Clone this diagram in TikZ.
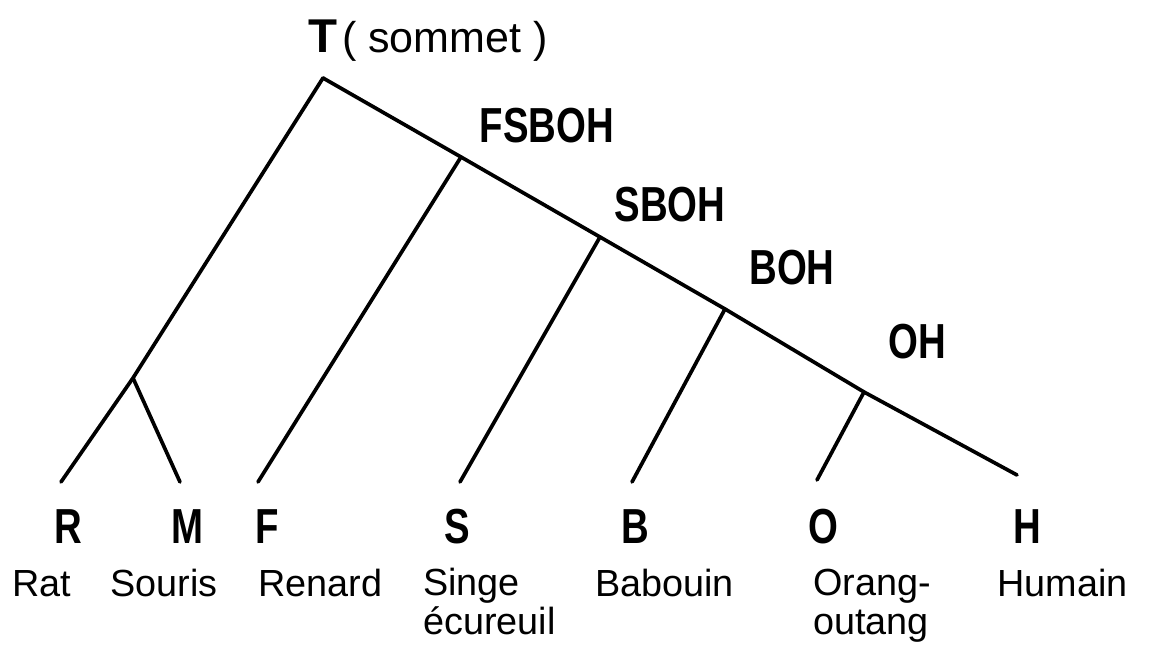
\documentclass[tikz,border=0pt]{standalone}
\usepackage{graphicx}
\usepackage{fontspec}
\setmainfont{Liberation Sans}
\usetikzlibrary{positioning}
\newcommand{\narrowtxt}[1]{\scalebox{0.78}[1]{#1}}
\tikzset{
  branch/.style={line width=2.1pt, color=black, line cap=round},
  leafletter/.style={font=\fontsize{28}{30}\selectfont\bfseries, inner sep=0pt, anchor=base},
  leafname/.style={font=\fontsize{21.5}{21.8}\selectfont, inner sep=0pt, anchor=base west, align=left},
  cladelabel/.style={font=\fontsize{28}{30}\selectfont\bfseries, inner sep=0pt, anchor=base}
}

\begin{document}
\begin{tikzpicture}[x=0.02cm, y=-0.02cm]
  \useasboundingbox (0,0) rectangle (1149,648);

  % root and inner junctions
  \node[inner sep=0pt, anchor=base west] (root) at (308,53)
    {{\fontsize{27}{30}\selectfont\bfseries T}\ {\fontsize{24.5}{26}\selectfont ( sommet )}};
  \coordinate (top) at (323,78);
  \coordinate (jRM) at (133,378);
  \coordinate (jFSBOH) at (461,157);
  \coordinate (jSBOH) at (600,237);
  \coordinate (jBOH) at (725,309);
  \coordinate (jOH) at (864,392);

  % leaf tips
  \coordinate (tR) at (61,482);
  \coordinate (tM) at (180,482);
  \coordinate (tF) at (258,482);
  \coordinate (tS) at (460,482);
  \coordinate (tB) at (632,482);
  \coordinate (tO) at (817,480);
  \coordinate (tH) at (1017,475);

  % branches
  \draw[branch] (top) -- (jRM) -- (tR);
  \draw[branch] (jRM) -- (tM);
  \draw[branch] (top) -- (jFSBOH) -- (jSBOH) -- (jBOH) -- (jOH) -- (tH);
  \draw[branch] (jFSBOH) -- (tF);
  \draw[branch] (jSBOH) -- (tS);
  \draw[branch] (jBOH) -- (tB);
  \draw[branch] (jOH) -- (tO);

  % clade labels
  \node[cladelabel] (lFSBOH) at (547,143) {\narrowtxt{FSBOH}};
  \node[cladelabel] (lSBOH) at (670,222) {\narrowtxt{SBOH}};
  \node[cladelabel] (lBOH) at (792,285) {\narrowtxt{BOH}};
  \node[cladelabel] (lOH) at (917,358) {\narrowtxt{OH}};

  % leaves
  \node[leafletter] (R) at (68,543) {\narrowtxt{R}};
  \node[leafletter] (M) at (187,543) {\narrowtxt{M}};
  \node[leafletter] (F) at (267,543) {\narrowtxt{F}};
  \node[leafletter] (S) at (457,543) {\narrowtxt{S}};
  \node[leafletter] (B) at (635,543) {\narrowtxt{B}};
  \node[leafletter] (O) at (823,543) {\narrowtxt{O}};
  \node[leafletter] (H) at (1027,543) {\narrowtxt{H}};

  \node[leafname] (nR) at (12,596) {Rat};
  \node[leafname] (nM) at (110,596) {Souris};
  \node[leafname] (nF) at (258,596) {Renard};
  \node[leafname] (nS) at (423,634) {Singe\\écureuil};
  \node[leafname] (nB) at (595,596) {Babouin};
  \node[leafname] (nO) at (813,634) {Orang-\\outang};
  \node[leafname] (nH) at (997,596) {Humain};
\end{tikzpicture}
\end{document}
